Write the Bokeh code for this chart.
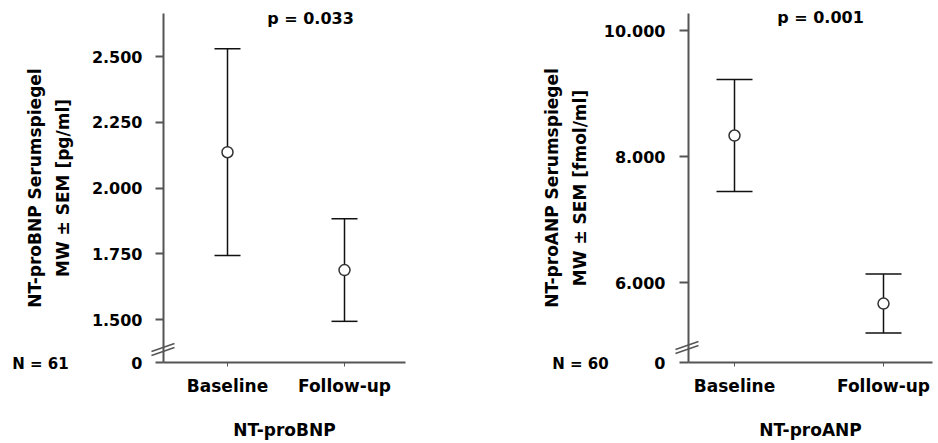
from bokeh.plotting import figure
from bokeh.models import (ColumnDataSource, Whisker, Label, FixedTicker, Range1d,
                          PolyAnnotation)
from bokeh.layouts import row
from bokeh.embed import file_html
from bokeh.resources import INLINE

# ---------------- data ----------------
groups = ["Baseline", "Follow-up"]
group_x = [1, 2]

bnp_mean = [2136, 1688]
bnp_sem = [393, 195]
bnp_ticks = [1500, 1750, 2000, 2250, 2500]
bnp_tick_labels = ["1.500", "1.750", "2.000", "2.250", "2.500"]
bnp_axis_floor = 1336      # broken axis: its bottom end is labelled "0"
bnp_axis_top = 2664
bnp_xlabel = "NT-proBNP"
bnp_ylabel = "NT-proBNP Serumspiegel\nMW \u00b1 SEM [pg/ml]"
bnp_p = "p = 0.033"
bnp_n = "N = 61"

anp_mean = [8333, 5665]
anp_sem = [889, 468]
anp_ticks = [6000, 8000, 10000]
anp_tick_labels = ["6.000", "8.000", "10.000"]
anp_axis_floor = 4730
anp_axis_top = 10270
anp_xlabel = "NT-proANP"
anp_ylabel = "NT-proANP Serumspiegel\nMW \u00b1 SEM [fmol/ml]"
anp_p = "p = 0.001"
anp_n = "N = 60"

# ---------------- layout ----------------
H = 443
FONT = "DejaVu Sans"
AXIS_COLOR = "#555555"
BREAK_COLOR = "#555555"
BAR_COLOR = "#111111"


def panel(mean, sem, ticks, tick_labels, floor, top, xlabel, ylabel, p_text, n_text,
          width, x1_px, x_px_per_unit, y_ref_val, y_ref_px, y_units_per_px,
          yaxis_px, xaxis_end_px, y_tick_out, y_standoff, ylab_standoff,
          head, p_px, n_px, brk_px):
    def tx(px):
        return 1 + (px - x1_px) / x_px_per_unit

    def ty(py):
        return y_ref_val + (y_ref_px - py) * y_units_per_px

    p = figure(width=width, height=H, x_range=Range1d(tx(0), tx(width)),
               y_range=Range1d(ty(H), ty(0)), output_backend="svg", toolbar_location=None,
               min_border=0, min_border_left=0, min_border_right=0,
               min_border_top=0, min_border_bottom=0)
    p.outline_line_color = None
    p.grid.visible = False

    upper = [m + s for m, s in zip(mean, sem)]
    lower = [m - s for m, s in zip(mean, sem)]
    src = ColumnDataSource(dict(x=group_x, mean=mean, upper=upper, lower=lower))

    w = Whisker(base="x", upper="upper", lower="lower", source=src,
                line_color=BAR_COLOR, line_width=1.5)
    for h in (w.upper_head, w.lower_head):
        h.size = head
        h.line_color = BAR_COLOR
        h.line_width = 1.5
    p.add_layout(w)
    p.scatter("x", "mean", source=src, marker="circle", size=11,
              fill_color="white", line_color="#333333", line_width=1.5)

    x_left = tx(yaxis_px)
    x_right = tx(xaxis_end_px)

    # x axis, drawn at the bottom of the (broken) value axis
    xa = p.xaxis[0]
    xa.fixed_location = floor
    xa.bounds = (x_left, x_right)
    xa.ticker = FixedTicker(ticks=group_x, minor_ticks=[])
    xa.major_label_overrides = {gx: g for gx, g in zip(group_x, groups)}
    xa.axis_line_color = AXIS_COLOR
    xa.axis_line_width = 2
    xa.major_tick_line_color = AXIS_COLOR
    xa.major_tick_line_width = 1
    xa.major_tick_in = 0
    xa.major_tick_out = 4
    xa.major_label_standoff = 9
    xa.major_label_text_font = FONT
    xa.major_label_text_font_style = "bold"
    xa.major_label_text_font_size = "17px"
    xa.major_label_text_color = "black"
    xa.axis_label = xlabel
    xa.axis_label_text_font = FONT
    xa.axis_label_text_font_style = "bold"
    xa.axis_label_text_font_size = "17px"
    xa.axis_label_text_color = "black"
    xa.axis_label_standoff = 21

    # y axis (broken: bottom end shown as 0)
    ya = p.yaxis[0]
    ya.fixed_location = x_left
    ya.bounds = (floor, top)
    ya.ticker = FixedTicker(ticks=[floor] + ticks, minor_ticks=[])
    ov = {floor: "0"}
    ov.update({t: l for t, l in zip(ticks, tick_labels)})
    ya.major_label_overrides = ov
    ya.axis_line_color = AXIS_COLOR
    ya.axis_line_width = 2
    ya.major_tick_line_color = AXIS_COLOR
    ya.major_tick_line_width = 2
    ya.major_tick_in = 0
    ya.major_tick_out = y_tick_out
    ya.major_label_standoff = y_standoff
    ya.major_label_text_font = FONT
    ya.major_label_text_font_style = "bold"
    ya.major_label_text_font_size = "16px"
    ya.major_label_text_color = "black"
    ya.axis_label = ylabel
    ya.axis_label_text_font = FONT
    ya.axis_label_text_font_style = "bold"
    ya.axis_label_text_font_size = "17px"
    ya.axis_label_text_color = "black"
    ya.axis_label_text_line_height = 1.4
    ya.axis_label_standoff = ylab_standoff

    # axis break marks
    for (x0, y0, x1, y1) in brk_px:
        p.add_layout(PolyAnnotation(xs=[tx(x0), tx(x1)], ys=[ty(y0), ty(y1)],
                                    fill_alpha=0, line_alpha=1.0,
                                    line_color=BREAK_COLOR, line_width=1.5))

    p.add_layout(Label(x=tx(p_px[0]), y=ty(p_px[1]), text=p_text, text_align="center",
                       text_baseline="middle", text_font=FONT, text_font_style="bold",
                       text_font_size="16px", text_color="black"))
    p.add_layout(Label(x=tx(n_px[0]), y=ty(n_px[1]), text=n_text, text_align="center",
                       text_baseline="middle", text_font=FONT, text_font_style="bold",
                       text_font_size="15px", text_color="black"))
    return p


# left panel (figure spans image x 0..470)
p1 = panel(bnp_mean, bnp_sem, bnp_ticks, bnp_tick_labels, bnp_axis_floor, bnp_axis_top,
           bnp_xlabel, bnp_ylabel, bnp_p, bnp_n,
           width=470, x1_px=227, x_px_per_unit=117,
           y_ref_val=1500, y_ref_px=319, y_units_per_px=1000 / 263,
           yaxis_px=163, xaxis_end_px=405,
           y_tick_out=8, y_standoff=13, ylab_standoff=16, head=26,
           p_px=(310, 18), n_px=(40, 363),
           brk_px=[(151, 351, 174, 343), (151, 355, 174, 347)])

# right panel (figure spans image x 470..938)
p2 = panel(anp_mean, anp_sem, anp_ticks, anp_tick_labels, anp_axis_floor, anp_axis_top,
           anp_xlabel, anp_ylabel, anp_p, anp_n,
           width=468, x1_px=264, x_px_per_unit=149,
           y_ref_val=6000, y_ref_px=282, y_units_per_px=2000 / 126,
           yaxis_px=218, xaxis_end_px=462,
           y_tick_out=9, y_standoff=14, ylab_standoff=11, head=36,
           p_px=(350, 17), n_px=(110, 363),
           brk_px=[(205, 349, 228, 341), (205, 353, 228, 345)])

layout = row(p1, p2)
open("out.html", "w").write(file_html(layout, INLINE))
